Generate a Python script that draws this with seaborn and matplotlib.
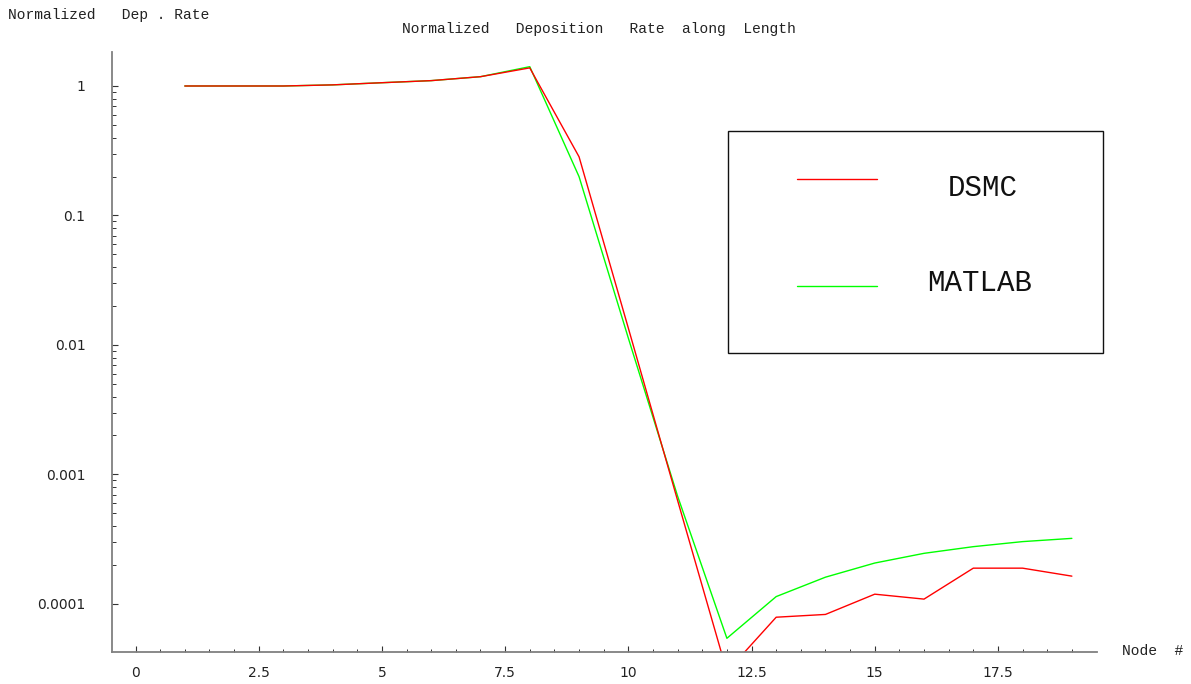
import numpy as np
import pandas as pd
import matplotlib
matplotlib.use("Agg")
import matplotlib.pyplot as plt
from matplotlib.ticker import FixedLocator, FixedFormatter, NullFormatter
from matplotlib.patches import Rectangle
from matplotlib.lines import Line2D
import seaborn as sns

# Normalized deposition rate per node
nodes = list(range(1, 20))
dsmc = [1.0, 1.0, 1.0, 1.02, 1.06, 1.10, 1.18, 1.38, 0.284, 0.0135, 6.3e-4,
        3.0e-5, 7.9e-5, 8.3e-5, 1.19e-4, 1.09e-4, 1.89e-4, 1.89e-4, 1.64e-4]
matlab = [1.0, 1.0, 1.0, 1.02, 1.06, 1.10, 1.18, 1.41, 0.1995, 0.0113, 6.8e-4,
          5.43e-5, 1.14e-4, 1.61e-4, 2.07e-4, 2.46e-4, 2.77e-4, 3.03e-4, 3.21e-4]
series_names = ["DSMC", "MATLAB"]
x_tick_values = [0, 2.5, 5, 7.5, 10, 12.5, 15, 17.5]
x_tick_labels = ["0", "2.5", "5", "7.5", "10", "12.5", "15", "17.5"]
y_tick_values = [1e-4, 1e-3, 1e-2, 1e-1, 1]
y_tick_labels = ["0.0001", "0.001", "0.01", "0.1", "1"]

df = pd.DataFrame({
    "Node": nodes * 2,
    "Rate": dsmc + matlab,
    "Series": [series_names[0]] * len(nodes) + [series_names[1]] * len(nodes),
})

sns.set_style("white")
plt.rcParams["font.family"] = ["DejaVu Sans"]
mono = "Liberation Mono"
palette = {"DSMC": "#ff0000", "MATLAB": "#00ff00"}

W, H = 1191, 684
fig = plt.figure(figsize=(W / 100, H / 100), dpi=100)
ax = fig.add_axes([112 / W, 1 - 652 / H, (1097 - 112) / W, (652 - 52) / H])

sns.lineplot(data=df, x="Node", y="Rate", hue="Series", hue_order=["MATLAB", "DSMC"],
             palette=palette, linewidth=1.0, legend=False, ax=ax, estimator=None)

ax.set_yscale("log")
ax.set_xlim(-0.477, 19.51)
ax.set_ylim(10 ** -4.371, 10 ** 0.2625)
ax.set_xlabel("")
ax.set_ylabel("")

for side in ("top", "right"):
    ax.spines[side].set_visible(False)
for side in ("left", "bottom"):
    ax.spines[side].set_color("#808080")
    ax.spines[side].set_linewidth(1.3)

# Minor ticks: every half node, and 2..9 within each decade from 1e-4 to 1
x_minor = [v for v in np.arange(0.5, 19.01, 0.5) if v % 2.5 != 0]
y_minor = [m * 10.0 ** e for e in range(-4, 0) for m in range(2, 10)]

ax.xaxis.set_major_locator(FixedLocator(x_tick_values))
ax.xaxis.set_major_formatter(FixedFormatter(x_tick_labels))
ax.xaxis.set_minor_locator(FixedLocator(x_minor))
ax.yaxis.set_major_locator(FixedLocator(y_tick_values))
ax.yaxis.set_major_formatter(FixedFormatter(y_tick_labels))
ax.yaxis.set_minor_locator(FixedLocator(y_minor))
ax.yaxis.set_minor_formatter(NullFormatter())

ax.tick_params(axis="both", which="both", bottom=True, left=True, top=False, right=False)
ax.tick_params(axis="both", which="major", direction="in", length=4.5, width=0.8,
               color="#333333", labelcolor="#222222", labelsize=10)
ax.tick_params(axis="both", which="minor", direction="in", length=3, width=0.7,
               color="#333333")
ax.tick_params(axis="y", which="major", pad=19)
ax.tick_params(axis="x", which="major", pad=10)
ax.tick_params(axis="x", which="minor", length=2.5)

# Axis captions and title
fig.text(8 / W, 1 - 15 / H, "Normalized   Dep . Rate", family=mono, fontsize=10.5,
         color="#222222", ha="left", va="center")
fig.text(599 / W, 1 - 29 / H, "Normalized   Deposition   Rate  along  Length",
         family=mono, fontsize=10.5, color="#222222", ha="center", va="center")
fig.text(1122 / W, 1 - 651 / H, "Node  #", family=mono, fontsize=10.5,
         color="#222222", ha="left", va="center")

# Boxed legend
fig.add_artist(Rectangle((728.3 / W, 1 - 353.3 / H), (1103.3 - 728.3) / W,
                         (353.3 - 130.7) / H, transform=fig.transFigure,
                         fill=False, edgecolor="#111111", linewidth=1.0))
legend_rows = [("DSMC", 179.3, 188, 983), ("MATLAB", 286, 283, 980)]
for name, ly, ty, tx in legend_rows:
    fig.add_artist(Line2D([797 / W, 876.7 / W], [1 - ly / H, 1 - ly / H],
                          transform=fig.transFigure, color=palette[name], linewidth=1.0))
    fig.text(tx / W, 1 - ty / H, name, family=mono, fontsize=21,
             color="#111111", ha="center", va="center")

fig.savefig("out.png", dpi=100)
